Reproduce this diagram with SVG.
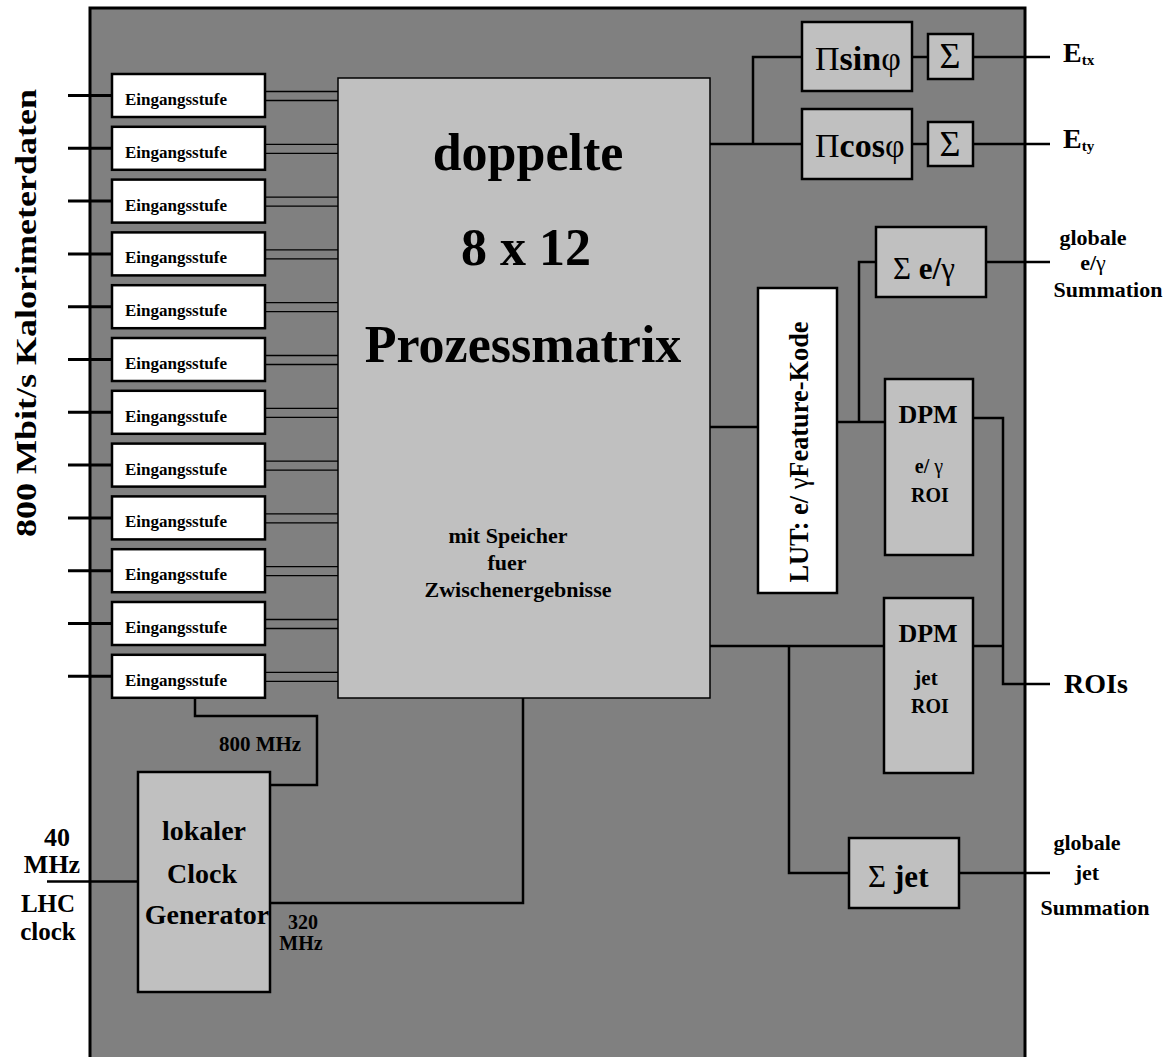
<svg xmlns="http://www.w3.org/2000/svg" width="1165" height="1057" viewBox="0 0 1165 1057">
<style>
text{font-family:"Liberation Serif","Times New Roman",serif;font-weight:bold;fill:#000}
.box{stroke:#000;stroke-width:2.5}
.g{fill:#c0c0c0}
.w{fill:#fff}
.ln{fill:none;stroke:#000;stroke-width:2.5}
.thin{fill:none;stroke:#000;stroke-width:1.3}
.stub{fill:none;stroke:#000;stroke-width:3}
.es{font-size:17px}
.m{text-anchor:middle}
.n{font-weight:normal}
</style>
<rect id="board" x="90" y="8" width="935" height="1060" fill="#808080" stroke="#000" stroke-width="3"/>

<g id="connectors">
  <path class="stub" d="M68 95.5H112M68 148.3H112M68 201.1H112M68 253.9H112M68 306.7H112M68 359.5H112M68 412.3H112M68 465.1H112M68 517.9H112M68 570.7H112M68 623.5H112M68 676.3H112"/>
  <path class="thin" d="M265 91.5H338M265 100.5H338M265 144.3H338M265 153.3H338M265 197.1H338M265 206.1H338M265 249.9H338M265 258.9H338M265 302.7H338M265 311.7H338M265 355.5H338M265 364.5H338M265 408.3H338M265 417.3H338M265 461.1H338M265 470.1H338M265 513.9H338M265 522.9H338M265 566.7H338M265 575.7H338M265 619.5H338M265 628.5H338M265 672.3H338M265 681.3H338"/>
  <path class="ln" d="M195 698V716H317V785H270"/>
  <path class="ln" d="M47 881.5H138"/>
  <path class="ln" d="M270 903H523V698"/>
  <path class="ln" d="M710 144H802M753 144V57H802M912 57H928M912 144H928M973 57H1050M973 144H1050"/>
  <path class="ln" d="M710 427H758"/>
  <path class="ln" d="M837 422H885M859 422V262H876M986 262H1050"/>
  <path class="ln" d="M973 418H1003V684H1050M973 646H1003"/>
  <path class="ln" d="M710 646H884M789 646V873H849M959 873H1050"/>
</g>

<g id="eingang1"><rect class="box w" x="112" y="74" width="153" height="43" stroke-width="2"/><text class="es" x="125" y="105">Eingangsstufe</text></g>
<g id="eingang2"><rect class="box w" x="112" y="126.8" width="153" height="43" stroke-width="2"/><text class="es" x="125" y="157.8">Eingangsstufe</text></g>
<g id="eingang3"><rect class="box w" x="112" y="179.6" width="153" height="43" stroke-width="2"/><text class="es" x="125" y="210.6">Eingangsstufe</text></g>
<g id="eingang4"><rect class="box w" x="112" y="232.4" width="153" height="43" stroke-width="2"/><text class="es" x="125" y="263.4">Eingangsstufe</text></g>
<g id="eingang5"><rect class="box w" x="112" y="285.2" width="153" height="43" stroke-width="2"/><text class="es" x="125" y="316.2">Eingangsstufe</text></g>
<g id="eingang6"><rect class="box w" x="112" y="338" width="153" height="43" stroke-width="2"/><text class="es" x="125" y="369">Eingangsstufe</text></g>
<g id="eingang7"><rect class="box w" x="112" y="390.8" width="153" height="43" stroke-width="2"/><text class="es" x="125" y="421.8">Eingangsstufe</text></g>
<g id="eingang8"><rect class="box w" x="112" y="443.6" width="153" height="43" stroke-width="2"/><text class="es" x="125" y="474.6">Eingangsstufe</text></g>
<g id="eingang9"><rect class="box w" x="112" y="496.4" width="153" height="43" stroke-width="2"/><text class="es" x="125" y="527.4">Eingangsstufe</text></g>
<g id="eingang10"><rect class="box w" x="112" y="549.2" width="153" height="43" stroke-width="2"/><text class="es" x="125" y="580.2">Eingangsstufe</text></g>
<g id="eingang11"><rect class="box w" x="112" y="602" width="153" height="43" stroke-width="2"/><text class="es" x="125" y="633">Eingangsstufe</text></g>
<g id="eingang12"><rect class="box w" x="112" y="654.8" width="153" height="43" stroke-width="2"/><text class="es" x="125" y="685.8">Eingangsstufe</text></g>

<g id="matrix">
  <rect class="g" x="338" y="78" width="372" height="620" stroke="#000" stroke-width="1.5"/>
  <text class="m" x="528" y="170" font-size="52">doppelte</text>
  <text class="m" x="526" y="265" font-size="52">8 x 12</text>
  <text class="m" x="523" y="362" font-size="52">Prozessmatrix</text>
  <text class="m" x="508" y="543" font-size="22">mit Speicher</text>
  <text class="m" x="507" y="570" font-size="22">fuer</text>
  <text class="m" x="518" y="597" font-size="22">Zwischenergebnisse</text>
</g>

<g id="clock">
  <rect class="box g" x="138" y="772" width="132" height="220"/>
  <text class="m" x="204" y="840" font-size="28">lokaler</text>
  <text class="m" x="202" y="883" font-size="28">Clock</text>
  <text class="m" x="207" y="924" font-size="28">Generator</text>
</g>

<g id="pisin"><rect class="box g" x="802" y="22" width="110" height="69"/><text x="815" y="70" font-size="34"><tspan class="n">Π</tspan>sin<tspan class="n">φ</tspan></text></g>
<g id="sum1"><rect class="box g" x="928" y="34" width="45" height="45"/><text class="m n" x="950" y="68" font-size="36">Σ</text></g>
<g id="picos"><rect class="box g" x="802" y="109" width="110" height="70"/><text x="815" y="157" font-size="34"><tspan class="n">Π</tspan>cos<tspan class="n">φ</tspan></text></g>
<g id="sum2"><rect class="box g" x="928" y="122" width="45" height="44"/><text class="m n" x="950" y="156" font-size="36">Σ</text></g>

<g id="sumeg"><rect class="box g" x="876" y="227" width="110" height="70"/><text x="893" y="279" font-size="31"><tspan class="n">Σ</tspan> e/<tspan class="n">γ</tspan></text></g>

<g id="lut"><rect class="box w" x="758" y="288" width="79" height="305"/><text class="m" transform="translate(808 452) rotate(-90)" font-size="27" textLength="261" lengthAdjust="spacingAndGlyphs">LUT: e/ <tspan class="n">γ</tspan>Feature-Kode</text></g>

<g id="dpmeg"><rect class="box g" x="885" y="379" width="88" height="176"/>
  <text class="m" x="928" y="423" font-size="26">DPM</text>
  <text class="m" x="929" y="473" font-size="20">e/ <tspan class="n">γ</tspan></text>
  <text class="m" x="930" y="502" font-size="20">ROI</text></g>

<g id="dpmjet"><rect class="box g" x="884" y="598" width="89" height="175"/>
  <text class="m" x="928" y="642" font-size="26">DPM</text>
  <text class="m" x="926" y="685" font-size="21">jet</text>
  <text class="m" x="930" y="713" font-size="20">ROI</text></g>

<g id="sumjet"><rect class="box g" x="849" y="838" width="110" height="70"/><text x="868" y="887" font-size="31"><tspan class="n">Σ</tspan><tspan dx="8">jet</tspan></text></g>

<g id="labels">
  <text transform="translate(36 313) rotate(-90)" class="m" font-size="30" textLength="448" lengthAdjust="spacingAndGlyphs">800 Mbit/s Kalorimeterdaten</text>
  <text x="1063" y="62" font-size="28">E<tspan font-size="15" dy="3">tx</tspan></text>
  <text x="1063" y="148" font-size="28">E<tspan font-size="15" dy="3">ty</tspan></text>
  <text class="m" x="1093" y="245" font-size="22">globale</text>
  <text class="m" x="1093" y="270" font-size="22">e/<tspan class="n">γ</tspan></text>
  <text class="m" x="1108" y="297" font-size="22">Summation</text>
  <text x="1064" y="693" font-size="28">ROIs</text>
  <text class="m" x="1087" y="850" font-size="22">globale</text>
  <text class="m" x="1087" y="880" font-size="22">jet</text>
  <text class="m" x="1095" y="915" font-size="22">Summation</text>
  <text class="m" x="57" y="846" font-size="26">40</text>
  <text class="m" x="52" y="873" font-size="26">MHz</text>
  <text class="m" x="48" y="912" font-size="25">LHC</text>
  <text class="m" x="48" y="940" font-size="25">clock</text>
  <text class="m" x="260" y="751" font-size="21">800 MHz</text>
  <text class="m" x="303" y="929" font-size="20">320</text>
  <text class="m" x="301" y="950" font-size="20">MHz</text>
</g>
</svg>
